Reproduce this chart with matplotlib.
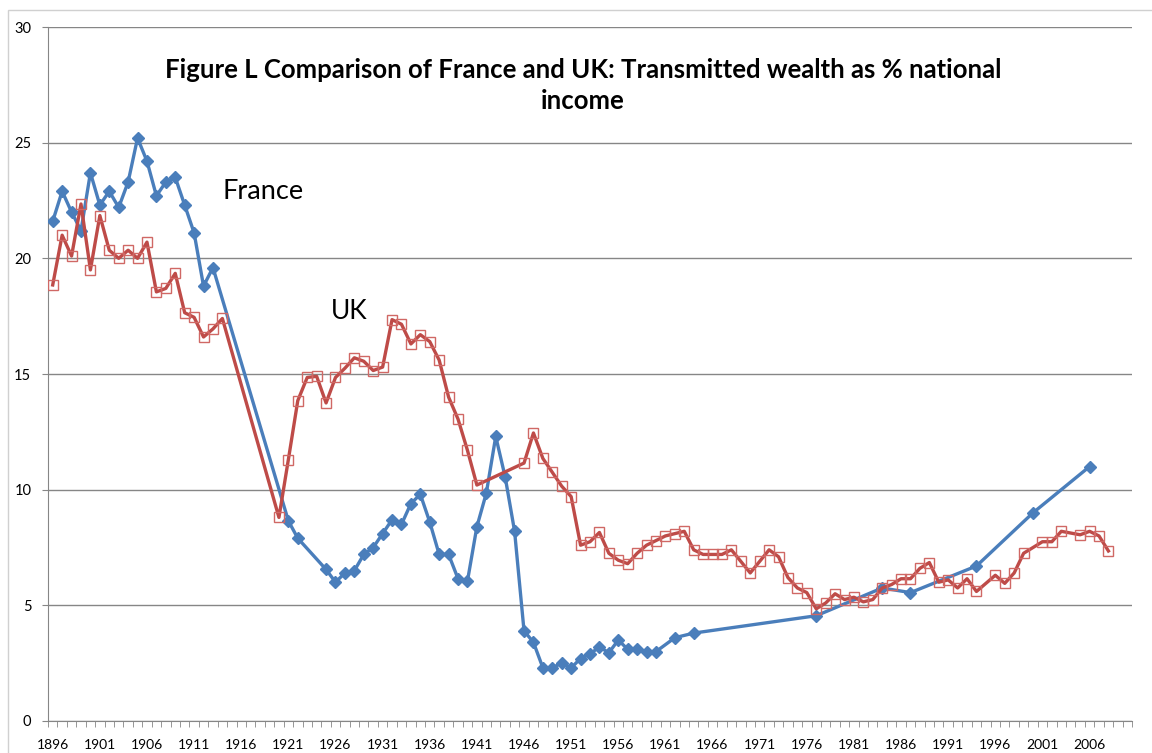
import numpy as np
import matplotlib
matplotlib.use("Agg")
from matplotlib import pyplot as plt
from matplotlib.patches import Rectangle
from matplotlib.ticker import FixedLocator, MultipleLocator

plt.rcParams['font.family'] = ['Lato', 'DejaVu Sans']

# France: transmitted wealth, % of national income
france_years = [1896, 1897, 1898, 1899, 1900, 1901, 1902, 1903, 1904, 1905,
                1906, 1907, 1908, 1909, 1910, 1911, 1912, 1913,
                1921, 1922, 1925, 1926, 1927, 1928, 1929, 1930, 1931, 1932,
                1933, 1934, 1935, 1936, 1937, 1938, 1939, 1940, 1941, 1942,
                1943, 1944, 1945, 1946, 1947, 1948, 1949, 1950, 1951, 1952,
                1953, 1954, 1955, 1956, 1957, 1958, 1959, 1960, 1962, 1964,
                1977, 1984, 1987, 1994, 2000, 2006]
france_vals = [21.6, 22.9, 22.0, 21.2, 23.7, 22.3, 22.9, 22.2, 23.3, 25.2,
               24.2, 22.7, 23.3, 23.5, 22.3, 21.1, 18.8, 19.6,
               8.65, 7.9, 6.55, 6.0, 6.4, 6.5, 7.2, 7.5, 8.1, 8.7,
               8.5, 9.4, 9.8, 8.6, 7.2, 7.2, 6.15, 6.05, 8.4, 9.85,
               12.3, 10.55, 8.2, 3.9, 3.4, 2.3, 2.3, 2.5, 2.3, 2.7,
               2.9, 3.2, 2.95, 3.5, 3.1, 3.1, 3.0, 3.0, 3.6, 3.8,
               4.55, 5.75, 5.55, 6.7, 9.0, 11.0]

# UK
uk_years = [1896, 1897, 1898, 1899, 1900, 1901, 1902, 1903, 1904, 1905,
            1906, 1907, 1908, 1909, 1910, 1911, 1912, 1913, 1914,
            1920, 1921, 1922, 1923, 1924, 1925, 1926, 1927, 1928, 1929,
            1930, 1931, 1932, 1933, 1934, 1935, 1936, 1937, 1938, 1939,
            1940, 1941,
            1946, 1947, 1948, 1949, 1950, 1951, 1952, 1953, 1954, 1955,
            1956, 1957, 1958, 1959, 1960, 1961, 1962, 1963, 1964, 1965,
            1966, 1967, 1968, 1969, 1970, 1971, 1972, 1973, 1974, 1975,
            1976, 1977, 1978, 1979, 1980, 1981, 1982, 1983, 1984, 1985,
            1986, 1987, 1988, 1989, 1990, 1991, 1992, 1993, 1994,
            1996, 1997, 1998, 1999, 2001, 2002, 2003, 2005, 2006, 2007, 2008]
uk_vals = [18.85, 21.0, 20.1, 22.35, 19.5, 21.85, 20.35, 20.0, 20.35, 20.0,
           20.7, 18.55, 18.7, 19.35, 17.65, 17.45, 16.6, 16.95, 17.4,
           8.8, 11.3, 13.85, 14.85, 14.9, 13.75, 14.85, 15.25, 15.7, 15.55,
           15.15, 15.3, 17.35, 17.15, 16.3, 16.7, 16.4, 15.6, 14.0, 13.05,
           11.7, 10.2,
           11.15, 12.45, 11.35, 10.75, 10.15, 9.7, 7.6, 7.75, 8.15, 7.25,
           6.95, 6.8, 7.25, 7.6, 7.8, 8.0, 8.1, 8.2, 7.4, 7.2,
           7.2, 7.2, 7.4, 6.9, 6.4, 6.9, 7.4, 7.1, 6.2, 5.75,
           5.55, 4.85, 5.1, 5.5, 5.25, 5.35, 5.15, 5.25, 5.75, 5.9,
           6.15, 6.15, 6.6, 6.85, 6.0, 6.1, 5.75, 6.15, 5.6,
           6.3, 5.95, 6.4, 7.25, 7.75, 7.75, 8.2, 8.05, 8.2, 8.0, 7.35]

first_year, last_year = 1896, 2010
label_years = list(range(1896, 2007, 5))

BLUE = '#4A7EBB'
RED = '#BE4B48'
GRID = '#868686'

W, H = 1152, 753
fig = plt.figure(figsize=(W / 100, H / 100), dpi=100)
fig.patch.set_facecolor('white')

# chart area border
fig.patches.append(Rectangle((8 / W, -0.1), 2, 1 - 10 / H + 0.1,
                             transform=fig.transFigure, fill=False,
                             edgecolor='#D0D0D0', lw=1))

ax = fig.add_axes([48 / W, 1 - 721 / H, (1132 - 48) / W, (721 - 27) / H])

ax.plot(france_years, france_vals, color=BLUE, lw=2.4, marker='D',
        markersize=6.5, markerfacecolor=BLUE, markeredgecolor=BLUE, zorder=3)
ax.plot(uk_years, uk_vals, color=RED, lw=2.4, marker='s', markersize=7.5,
        markerfacecolor='none', markeredgecolor='#D06865', markeredgewidth=1.0,
        solid_joinstyle='round', zorder=4)

ax.set_xlim(first_year - 0.5, last_year + 0.5)
ax.set_ylim(0, 30)

ax.yaxis.set_major_locator(MultipleLocator(5))
ax.grid(axis='y', color=GRID, lw=1)
ax.set_axisbelow(True)

ax.xaxis.set_major_locator(FixedLocator(label_years))
ax.xaxis.set_minor_locator(FixedLocator(np.arange(first_year - 0.5, last_year + 1)))
ax.set_xticklabels([str(y) for y in label_years])
ax.tick_params(axis='x', which='major', length=0, pad=13, labelsize=10)
ax.tick_params(axis='x', which='minor', length=4, color=GRID, direction='out')
ax.tick_params(axis='y', length=4, color=GRID, pad=8, labelsize=10.5)

for s in ['top', 'right']:
    ax.spines[s].set_visible(False)
for s in ['left', 'bottom']:
    ax.spines[s].set_color(GRID)

ax.text(1914.0, 22.87, 'France', fontsize=19.5, va='center', ha='left')
ax.text(1925.5, 17.7, 'UK', fontsize=19, va='center', ha='left')

fig.text(583 / W, 1 - 70 / H,
         'Figure L Comparison of France and UK: Transmitted wealth as % national',
         ha='center', va='center', fontsize=18.5, fontweight='bold')
fig.text(583 / W, 1 - 101 / H, 'income',
         ha='center', va='center', fontsize=18.5, fontweight='bold')

fig.savefig('out.png', dpi=100)
